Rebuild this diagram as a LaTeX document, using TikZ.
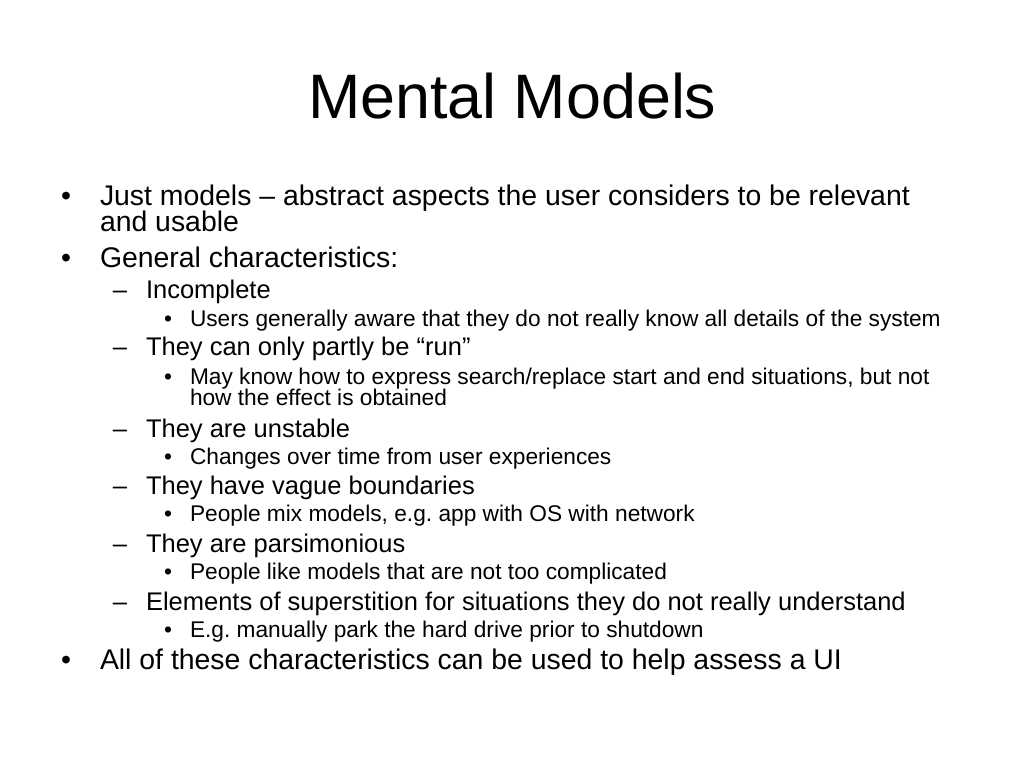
\documentclass[tikz,border=0pt]{standalone}
\usepackage{fontspec}
\setmainfont{Liberation Sans}
\frenchspacing
\begin{document}
\begin{tikzpicture}[x=1pt,y=-1pt,
  txt/.style={anchor=base west,inner sep=0pt,outer sep=0pt},
  mark1/.style={anchor=base,inner sep=0pt,outer sep=0pt,font=\fontsize{28.4}{30}\selectfont},
  mark2/.style={anchor=base,inner sep=0pt,outer sep=0pt,font=\fontsize{25.5}{27}\selectfont},
  mark3/.style={anchor=base,inner sep=0pt,outer sep=0pt,font=\fontsize{22.7}{24}\selectfont},
  lone/.style={txt,font=\fontsize{28.4}{30}\selectfont},
  ltwo/.style={txt,font=\fontsize{25.5}{27}\selectfont},
  lthree/.style={txt,font=\fontsize{22.7}{24}\selectfont}]
\useasboundingbox[fill=white] (0,0) rectangle (1024,768);
\node[anchor=base,inner sep=0pt,font=\fontsize{62.8}{66}\selectfont] (title) at (512.3,118.3) {Mental Models};
% level 1
\node[mark1] (b1) at (66,205.5) {•};
\node[lone] (t1a) at (100,205.5) {Just models – abstract aspects the user considers to be relevant};
\node[lone] (t1b) at (100,231.5) {and usable};
\node[mark1] (b2) at (66,267.5) {•};
\node[lone] (t2) at (100,267.5) {General characteristics:};
% level 2 / 3
\node[mark2] (d1) at (120,298) {–};
\node[ltwo] (s1) at (146,298) {Incomplete};
\node[mark3] (c1) at (168,326.5) {•};
\node[lthree] (u1) at (190,326.5) {Users generally aware that they do not really know all details of the system};
\node[mark2] (d2) at (120,355.5) {–};
\node[ltwo] (s2) at (146,355.5) {They can only partly be “run”};
\node[mark3] (c2) at (168,384.5) {•};
\node[lthree] (u2a) at (190,384.5) {May know how to express search/replace start and end situations, but not};
\node[lthree] (u2b) at (190,405) {how the effect is obtained};
\node[mark2] (d3) at (120,437) {–};
\node[ltwo] (s3) at (146,437) {They are unstable};
\node[mark3] (c3) at (168,464) {•};
\node[lthree] (u3) at (190,464) {Changes over time from user experiences};
\node[mark2] (d4) at (120,494.5) {–};
\node[ltwo] (s4) at (146,494.5) {They have vague boundaries};
\node[mark3] (c4) at (168,521.5) {•};
\node[lthree] (u4) at (190,521.5) {People mix models, e.g. app with OS with network};
\node[mark2] (d5) at (120,552.5) {–};
\node[ltwo] (s5) at (146,552.5) {They are parsimonious};
\node[mark3] (c5) at (168,579.5) {•};
\node[lthree] (u5) at (190,579.5) {People like models that are not too complicated};
\node[mark2] (d6) at (120,610) {–};
\node[ltwo] (s6) at (146,610) {Elements of superstition for situations they do not really understand};
\node[mark3] (c6) at (168,637) {•};
\node[lthree] (u6) at (190,637) {E.g. manually park the hard drive prior to shutdown};
% final
\node[mark1] (b3) at (66,669.5) {•};
\node[lone] (t3) at (100,669.5) {All of these characteristics can be used to help assess a UI};
\end{tikzpicture}
\end{document}
